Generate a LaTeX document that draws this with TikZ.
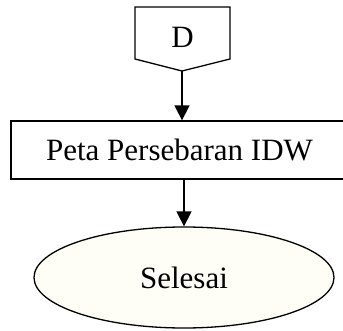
\documentclass[tikz,border=0pt]{standalone}
\usepackage{fontspec}
\setmainfont{Liberation Serif}
\usetikzlibrary{shapes.geometric,arrows.meta}
\definecolor{cream}{HTML}{FEFEF7}
\begin{document}
\begin{tikzpicture}[x=1pt,y=-1pt,
  label text/.style={font=\fontsize{31}{33}\selectfont, inner sep=0pt},
  outline/.style={draw=black, line width=1.3pt},
  flow/.style={draw=black, line width=1.6pt, -{Triangle[length=15pt,width=15pt]}}]
  \useasboundingbox (0,0) rectangle (343,331);
  % off-page connector D
  \node[label text] (d) at (182.5,37.5) {D};
  \coordinate (dtl) at (135,7);
  \coordinate (dtr) at (230,7);
  \coordinate (dbr) at (230,59);
  \coordinate (dtip) at (182,71);
  \coordinate (dbl) at (135,59);
  \draw[outline, line join=miter] (dtl) -- (dtr) -- (dbr) -- (dtip) -- (dbl) -- cycle;
  % process box
  \node[label text, outline, rectangle, minimum width=337pt, minimum height=58pt] (peta) at (179.5,150) {Peta Persebaran IDW};
  % terminator
  \node[label text, outline, ellipse, fill=cream, minimum width=300pt, minimum height=101pt] (end) at (184,277.5) {Selesai};
  % connectors
  \draw[flow] (dtip) -- (dtip |- peta.north);
  \draw[flow] (end.north |- peta.south) -- (end.north);
\end{tikzpicture}
\end{document}
